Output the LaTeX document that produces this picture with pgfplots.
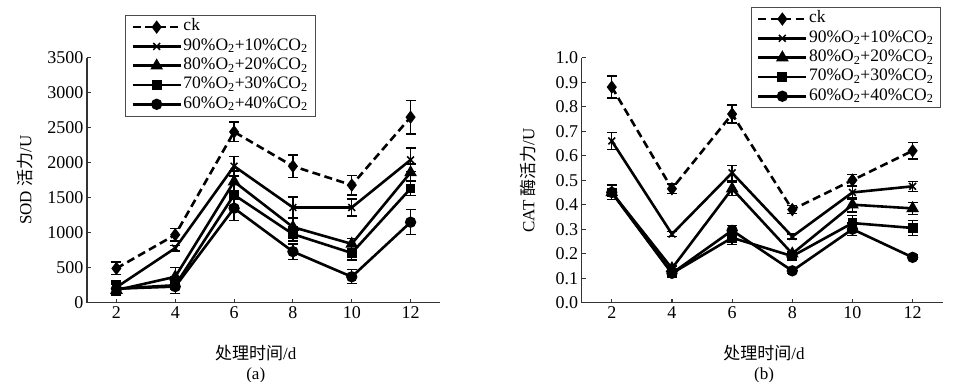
\documentclass[border=0pt]{standalone}
\usepackage{pgfplots}
\pgfplotsset{compat=1.18}
\usepackage{fontspec}
\setmainfont{Liberation Serif}
\newfontfamily\cjk{Noto Sans CJK SC}

\pgfplotstableread{
x y e
2 490 90
4 970 90
6 2440 140
8 1950 160
10 1680 140
12 2650 240
}\sodck
\pgfplotstableread{
x y e
2 220 90
4 780 40
6 1950 140
8 1360 150
10 1360 120
12 2040 170
}\sodA
\pgfplotstableread{
x y e
2 180 80
4 370 130
6 1730 150
8 1080 140
10 840 80
12 1860 120
}\sodB
\pgfplotstableread{
x y e
2 200 80
4 250 120
6 1540 150
8 980 100
10 710 100
12 1630 100
}\sodC
\pgfplotstableread{
x y e
2 200 80
4 230 100
6 1350 180
8 730 110
10 370 100
12 1150 180
}\sodD

\pgfplotstableread{
x y e
2 0.88 0.045
4 0.465 0.02
6 0.77 0.037
8 0.38 0.017
10 0.50 0.024
12 0.62 0.033
}\catck
\pgfplotstableread{
x y e
2 0.66 0.034
4 0.28 0.01
6 0.53 0.03
8 0.27 0.01
10 0.45 0.027
12 0.475 0.02
}\catA
\pgfplotstableread{
x y e
2 0.45 0.03
4 0.14 0.01
6 0.465 0.028
8 0.20 0.01
10 0.40 0.03
12 0.385 0.024
}\catB
\pgfplotstableread{
x y e
2 0.45 0.03
4 0.12 0.01
6 0.265 0.028
8 0.19 0.01
10 0.325 0.03
12 0.305 0.03
}\catC
\pgfplotstableread{
x y e
2 0.45 0.03
4 0.12 0.01
6 0.295 0.02
8 0.13 0.01
10 0.30 0.025
12 0.185 0.01
}\catD

\pgfplotsset{
  legend image code/.code={\draw[mark repeat=2,mark phase=2,#1] plot coordinates {(0pt,0pt) (24pt,0pt) (48pt,0pt)};},
  base/.style={
    scale only axis, height=245pt, clip mode=individual,
    axis x line*=bottom, axis y line*=left,
    axis line style={line width=1.1pt, black!80, -},
    xmin=1, xmax=13, xtick={2,4,...,12},
    tick style={black!80, line width=1.1pt},
    major tick length=4pt,
    tick label style={font=\fontsize{18}{20}\selectfont},
    /pgf/number format/assume math mode=true,
    label style={font=\fontsize{17}{19}\selectfont},
    legend cell align=left,
    legend style={anchor=north west, draw=black!70, line width=0.8pt, fill=white,
      font=\fontsize{17.5}{19}\selectfont,
      nodes={inner sep=1.5pt, text height=12pt, text depth=4.3pt},
      inner xsep=6pt, inner ysep=2pt,
      /tikz/every even column/.append style={column sep=6pt}},
    every axis plot/.append style={black, line width=2.6pt},
    error bars/y dir=both, error bars/y explicit,
    error bars/error bar style={line width=1.3pt, solid},
    error bars/error mark options={rotate=90, mark size=5pt, line width=1.3pt, solid},
  },
  sck/.style={dash pattern=on 8pt off 4.5pt, mark=diamond*, mark size=4.6pt, mark options={solid}},
  sA/.style={mark=x, mark size=4.8pt, mark options={line width=1.5pt}},
  sB/.style={mark=triangle*, mark size=4.8pt},
  sC/.style={mark=square*, mark size=3.6pt},
  sD/.style={mark=*, mark size=4.3pt},
}

\begin{document}
\begin{tikzpicture}
\path[use as bounding box] (0,0) rectangle (953pt,382pt);
\begin{axis}[base,
  at={(87pt,79.3pt)}, anchor=south west, width=353pt,
  ymin=0, ymax=3500, ytick={0,500,...,3500},
  /pgf/number format/set thousands separator={},
  xlabel={{\cjk 处理时间}/d},
  xlabel style={at={(axis description cs:0.478,-0.205)}, anchor=center},
  ylabel={SOD {\cjk 活力}/U},
  ylabel style={at={(axis description cs:-0.1756,0.5)}, rotate=0, anchor=center},
  legend style={at={(axis description cs:0.1076,1.174)}},
]
\addplot[sck] table[x=x,y=y,y error=e] {\sodck};
\addplot[sA] table[x=x,y=y,y error=e] {\sodA};
\addplot[sB] table[x=x,y=y,y error=e] {\sodB};
\addplot[sC] table[x=x,y=y,y error=e] {\sodC};
\addplot[sD] table[x=x,y=y,y error=e] {\sodD};
\legend{ck, 90\%O\textsubscript{2}+10\%CO\textsubscript{2}, 80\%O\textsubscript{2}+20\%CO\textsubscript{2}, 70\%O\textsubscript{2}+30\%CO\textsubscript{2}, 60\%O\textsubscript{2}+40\%CO\textsubscript{2}}
\node[font=\fontsize{17}{19}\selectfont] at (axis description cs:0.478,-0.295) {(a)};
\end{axis}
\begin{axis}[base,
  at={(581.7pt,79.3pt)}, anchor=south west, width=361pt,
  ymin=0, ymax=1.0, ytick={0,0.1,...,1.0},
  yticklabel style={/pgf/number format/.cd, fixed, fixed zerofill, precision=1},
  xlabel={{\cjk 处理时间}/d},
  xlabel style={at={(axis description cs:0.505,-0.205)}, anchor=center},
  ylabel={CAT {\cjk 酶活力}/U},
  ylabel style={at={(axis description cs:-0.1488,0.5)}, rotate=0, anchor=center},
  legend style={at={(axis description cs:0.468,1.207)}},
]
\addplot[sck] table[x=x,y=y,y error=e] {\catck};
\addplot[sA] table[x=x,y=y,y error=e] {\catA};
\addplot[sB] table[x=x,y=y,y error=e] {\catB};
\addplot[sC] table[x=x,y=y,y error=e] {\catC};
\addplot[sD] table[x=x,y=y,y error=e] {\catD};
\legend{ck, 90\%O\textsubscript{2}+10\%CO\textsubscript{2}, 80\%O\textsubscript{2}+20\%CO\textsubscript{2}, 70\%O\textsubscript{2}+30\%CO\textsubscript{2}, 60\%O\textsubscript{2}+40\%CO\textsubscript{2}}
\node[font=\fontsize{17}{19}\selectfont] at (axis description cs:0.505,-0.295) {(b)};
\end{axis}
\end{tikzpicture}
\end{document}
